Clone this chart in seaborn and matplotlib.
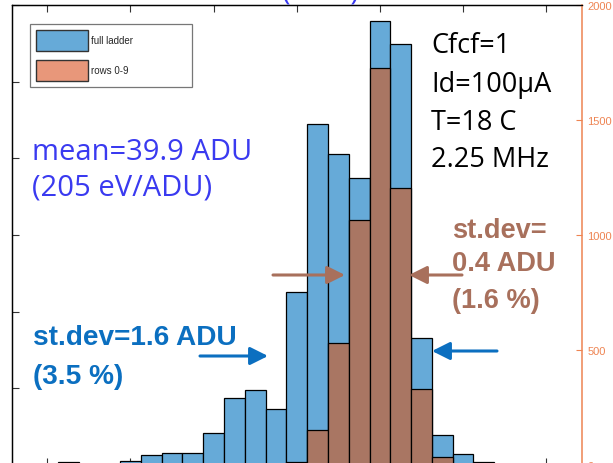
import numpy as np
import pandas as pd
import matplotlib
matplotlib.use("Agg")
import matplotlib.pyplot as plt
from matplotlib.patches import Patch
import seaborn as sns

# Histogram bin centres (ADU), bin width 0.5 ADU
centers = [32.5, 34.0, 34.5, 35.0, 35.5, 36.0, 36.5, 37.0, 37.5, 38.0, 38.5,
           39.0, 39.5, 40.0, 40.5, 41.0, 41.5, 42.0, 42.5]
# full ladder counts (left axis)
full_counts = [20, 26, 65, 78, 78, 209, 437, 489, 365, 1128, 2224,
               2028, 1872, 2896, 2746, 828, 196, 72, 20]
# rows 0-9 counts (right axis)
rows_counts = [0, 0, 0, 0, 0, 0, 0, 0, 0, 13, 152,
               530, 1065, 1726, 1204, 330, 35, 0, 0]

legend_labels = ["full ladder", "rows 0-9"]
right_ticks = [0, 500, 1000, 1500, 2000]
x_ticks = [32, 34, 36, 38, 40, 42, 44]

BLUE = "#66AAD8"
BROWN = "#A97663"
SALMON = "#E8977A"
ORANGE = "#EE8452"

sns.set_theme(style="white")
plt.rcParams["font.family"] = ["Open Sans", "DejaVu Sans"]

df = pd.DataFrame({"adu": centers, "full": full_counts, "rows": rows_counts})

fig = plt.figure(figsize=(6.13, 4.64), dpi=100)
ax = fig.add_axes([12 / 613, 1 - 466 / 464, 570 / 613, 460 / 464])
ax2 = ax.twinx()

sns.histplot(data=df, x="adu", weights="full", binwidth=0.5, binrange=(32.25, 42.75),
             ax=ax, color=BLUE, alpha=1.0, edgecolor="black", linewidth=0.9)
sns.histplot(data=df, x="adu", weights="rows", binwidth=0.5, binrange=(32.25, 42.75),
             ax=ax2, color=BROWN, alpha=1.0, edgecolor="black", linewidth=0.9)

ax.set_xlim(31.15, 44.86)
ax.set_ylim(0, 3000)
ax2.set_ylim(0, 2000)
ax.set_xticks(x_ticks)
ax.set_yticks(np.arange(0, 3001, 500))
ax2.set_yticks(right_ticks)
ax.set_xlabel("")
ax.set_ylabel("")
ax2.set_ylabel("")

ax.tick_params(axis="both", direction="in", length=5, width=0.8, color="#333333",
               labelleft=False, labelbottom=False, top=True, bottom=True, left=True)
ax2.tick_params(axis="y", direction="in", length=4, width=0.8, colors=ORANGE,
                labelsize=8, pad=4)
for lab in ax2.get_yticklabels():
    lab.set_fontfamily(["Liberation Sans", "DejaVu Sans"])

for name in ["left", "top", "bottom"]:
    ax.spines[name].set_color("black")
    ax.spines[name].set_linewidth(0.9)
    ax2.spines[name].set_color("black")
    ax2.spines[name].set_linewidth(0.9)
ax2.spines["right"].set_color(ORANGE)
ax2.spines["right"].set_linewidth(1.1)
ax.spines["right"].set_visible(False)

# Legend
handles = [Patch(facecolor=BLUE, edgecolor="#333333", linewidth=1.0),
           Patch(facecolor=SALMON, edgecolor="#333333", linewidth=1.0)]
leg = ax2.legend(handles, legend_labels, loc="upper left",
                 bbox_to_anchor=((30 - 12) / 570, (466 - 25) / 460 - 0.2, 162 / 570, 0.2),
                 mode="expand", borderaxespad=0, fancybox=False, frameon=True,
                 handlelength=5.4, handleheight=2.9, handletextpad=0.3,
                 labelspacing=1.0, borderpad=0.6,
                 prop={"family": ["Liberation Sans", "DejaVu Sans"], "size": 7})
leg.get_frame().set_edgecolor("#555555")
leg.get_frame().set_linewidth(0.9)

def px(x, y):
    return x / 613, 1 - y / 464

def note(x, y, s, color, size, weight="normal", family=None):
    fx, fy = px(x, y)
    kw = {}
    if family:
        kw["family"] = family
    fig.text(fx, fy, s, color=color, fontsize=size, fontweight=weight,
             ha="left", va="baseline", **kw)

MEAN_BLUE = "#3A3AF0"
SD_BLUE = "#0B6FC0"
SD_BROWN = "#A8705C"
BOLD_FAMILY = ["Liberation Sans", "DejaVu Sans"]

note(32, 160, "mean=39.9 ADU", MEAN_BLUE, 21)
note(32, 196, "(205 eV/ADU)", MEAN_BLUE, 21)
note(431, 53, "Cfcf=1", "black", 19.5)
note(431, 92, "Id=100μA", "black", 19.5)
note(431, 130, "T=18 C", "black", 19.5)
note(431, 167, "2.25 MHz", "black", 19.5)
note(452, 238, "st.dev=", SD_BROWN, 19.6, weight="bold", family=BOLD_FAMILY)
note(452, 271, "0.4 ADU", SD_BROWN, 19.6, weight="bold", family=BOLD_FAMILY)
note(452, 308, "(1.6 %)", SD_BROWN, 19.6, weight="bold", family=BOLD_FAMILY)
note(33, 345, "st.dev=1.6 ADU", SD_BLUE, 20.2, weight="bold", family=BOLD_FAMILY)
note(33, 384, "(3.5 %)", SD_BLUE, 20.2, weight="bold", family=BOLD_FAMILY)

# Title sitting above the visible frame
tx, _ = px(321, 0)
fig.text(tx, 1.0, "(ADU)", color=MEAN_BLUE, fontsize=21, ha="center", va="baseline")

def arrow(x0, y0, x1, y1, color):
    ax2.annotate("", xy=px(x1, y1), xytext=px(x0, y0),
                 xycoords="figure fraction", textcoords="figure fraction",
                 arrowprops=dict(arrowstyle="-|>,head_length=0.9,head_width=0.45",
                                 color=color, lw=2.2, shrinkA=0, shrinkB=0))

arrow(273, 276, 345, 276, SD_BROWN)
arrow(462, 276, 409, 276, SD_BROWN)
arrow(200, 357, 268, 357, SD_BLUE)
arrow(497, 352, 432, 352, SD_BLUE)

fig.savefig("out.png", dpi=100)
